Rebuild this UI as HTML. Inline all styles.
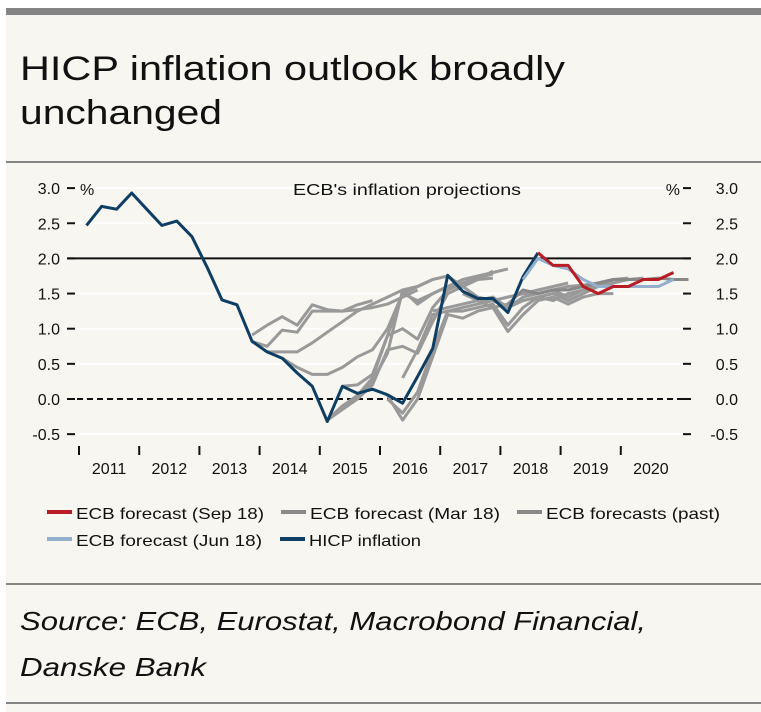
<!DOCTYPE html>
<html><head><meta charset="utf-8"><style>
body{margin:0;background:#fff;}
svg{display:block;font-family:"Liberation Sans",sans-serif;}
</style></head><body>
<svg id="c" width="761" height="712" viewBox="0 0 761 712">
<rect x="6" y="8" width="755" height="704" fill="#f7f6f0"/>
<rect x="6" y="8" width="755" height="7" fill="#848484"/>
<text x="20" y="80" font-size="34" fill="#111" textLength="545" lengthAdjust="spacingAndGlyphs">HICP inflation outlook broadly</text>
<text x="20" y="124" font-size="34" fill="#111" textLength="202" lengthAdjust="spacingAndGlyphs">unchanged</text>
<rect x="6" y="161" width="755" height="2" fill="#848484"/>
<g id="plot"></g>
<g id="legend"></g>
<rect x="6" y="583" width="755" height="2" fill="#848484"/>
<text x="20" y="630" font-size="26" font-style="italic" fill="#111" textLength="626" lengthAdjust="spacingAndGlyphs">Source: ECB, Eurostat, Macrobond Financial,</text>
<text x="20" y="676" font-size="26" font-style="italic" fill="#111" textLength="186" lengthAdjust="spacingAndGlyphs">Danske Bank</text>
<rect x="6" y="702" width="755" height="2" fill="#848484"/>
</svg>
<script>
const yTicks=[3.0,2.5,2.0,1.5,1.0,0.5,0.0,-0.5];
const yTickLabels=["3.0","2.5","2.0","1.5","1.0","0.5","0.0","-0.5"];
const years=[2011,2012,2013,2014,2015,2016,2017,2018,2019,2020];
const hicpStart=2011.125;
const hicp=[2.47,2.74,2.70,2.93,2.70,2.47,2.53,2.31,1.88,1.41,1.34,0.82,0.67,0.58,0.37,0.18,-0.32,0.18,0.08,0.14,0.06,-0.06,0.32,0.72,1.76,1.53,1.43,1.43,1.23,1.74,2.08];
const sepStart=2018.625;
const sep18=[2.08,1.9,1.9,1.6,1.5,1.6,1.6,1.7,1.7,1.8];
const junStart=2018.375;
const jun18=[1.7,2.0,1.9,1.85,1.7,1.6,1.6,1.6,1.6,1.6,1.7];
const marStart=2018.125;
const mar18=[1.35,1.55,1.5,1.55,1.55,1.6,1.65,1.7,1.7,1.7,1.72,1.7,1.7];
const pastStarts=[2013.875,2013.875,2014.125,2014.375,2015.125,2015.125,2015.125,2015.375,2016.125,2016.125,2016.375,2016.875,2017.125,2017.375,2017.625];
const pastValues=[
[0.91,1.05,1.17,1.05,1.34,1.27,1.25,1.34,1.40],
[0.82,0.75,0.98,0.95,1.25,1.25,1.25,1.27,1.3,1.35,1.45,1.55],
[0.67,0.67,0.67,0.8,0.95,1.1,1.25,1.35,1.45,1.55,1.6,1.7],
[0.58,0.45,0.35,0.35,0.45,0.6,0.7,1.0,1.5,1.6,1.7,1.75],
[-0.3,-0.15,0.0,0.25,0.65,1.55,1.35,1.5,1.6,1.65,1.7,1.72],
[-0.3,-0.1,0.05,0.3,0.9,1.0,0.85,1.3,1.55,1.65,1.72,1.78],
[-0.3,-0.1,0.0,0.2,0.7,0.75,0.65,1.1,1.5,1.6,1.7,1.82],
[0.18,0.2,0.35,0.9,1.5,1.4,1.5,1.6,1.7,1.75,1.8,1.85],
[0.05,-0.3,0.0,0.6,1.2,1.15,1.25,1.3,0.96,1.2,1.4,1.45,1.35,1.45,1.5,1.5],
[0.0,-0.2,0.1,0.7,1.25,1.25,1.3,1.35,1.05,1.3,1.45,1.5,1.45,1.55,1.6,1.65],
[0.3,0.7,1.2,1.25,1.3,1.35,1.4,1.45,1.5,1.55,1.6,1.65],
[1.25,1.3,1.35,1.4,1.4,1.45,1.5,1.5,1.55,1.6,1.62,1.65],
[1.75,1.6,1.45,1.4,1.3,1.4,1.45,1.5,1.4,1.5,1.6,1.7],
[1.5,1.4,1.45,1.3,1.45,1.5,1.55,1.45,1.55,1.65,1.7,1.72],
[1.4,1.3,1.35,1.4,1.45,1.4,1.5,1.55,1.6,1.65,1.7,1.72]
];
const NS='http://www.w3.org/2000/svg';
const X=t=>79+60.2*(t-2011);
const Y=v=>399-70.3*v;
function mk(tag,attrs,parent){const e=document.createElementNS(NS,tag);for(const k in attrs)e.setAttribute(k,attrs[k]);parent.appendChild(e);return e;}
const plot=document.getElementById('plot');
yTicks.forEach((v,i)=>{
  if(v!==0&&v!==2){const g=mk('line',{x1:67,x2:690,y1:Y(v),y2:Y(v),stroke:'#fff','stroke-width':2},plot);
  
  }
  const t1=mk('line',{x1:67,x2:75,y1:Y(v),y2:Y(v),stroke:'#111','stroke-width':2},plot);
  
  
  const t2=mk('line',{x1:683,x2:691,y1:Y(v),y2:Y(v),stroke:'#111','stroke-width':2},plot);
  
  
  const l=mk('text',{x:60,y:Y(v)+6,'font-size':16,'text-anchor':'end',fill:'#111'},plot);l.textContent=yTickLabels[i];
  
  
  const r=mk('text',{x:738,y:Y(v)+6,'font-size':16,'text-anchor':'end',fill:'#111'},plot);r.textContent=yTickLabels[i];
  
  
});
const two=mk('line',{x1:67,x2:691,y1:Y(2),y2:Y(2),stroke:'#111','stroke-width':2},plot);


const zero=mk('line',{x1:67,x2:691,y1:Y(0),y2:Y(0),stroke:'#111','stroke-width':2,'stroke-dasharray':'6,4'},plot);


years.forEach(yr=>{
  const t=mk('line',{x1:X(yr),x2:X(yr),y1:446,y2:455,stroke:'#111','stroke-width':2},plot);
  
  
  const l=mk('text',{x:X(yr+0.5),y:474,'font-size':16,'text-anchor':'middle',fill:'#111'},plot);l.textContent=String(yr);
  
  
});
[['%',80,'start'],['%',680,'end']].forEach(a=>{const t=mk('text',{x:a[1],y:195,'font-size':16,'text-anchor':a[2],fill:'#111'},plot);t.textContent=a[0];

});
const st=mk('text',{x:407,y:195,'font-size':16,'text-anchor':'middle',fill:'#111',textLength:228,lengthAdjust:'spacingAndGlyphs'},plot);st.textContent="ECB's inflation projections";


function series(start,vals,color,w,name){
  const d=vals.map((v,i)=>(i?'L':'M')+X(start+0.25*i).toFixed(1)+','+Y(v).toFixed(1)).join(' ');
  const p=mk('path',{d:d,fill:'none',stroke:color,'stroke-width':w,'stroke-linejoin':'round'},plot);
  
  
}
pastValues.forEach((vals,i)=>series(pastStarts[i],vals,'#999','3','past-forecast-line'));
series(marStart,mar18,'#888','3','mar18-forecast-line');
series(hicpStart,hicp,'#0e3e63','3','hicp-line');
series(junStart,jun18,'#93afcc','3','jun18-forecast-line');
series(sepStart,sep18,'#b81c24','3','sep18-forecast-line');
const legend=document.getElementById('legend');
const items=[['ECB forecast (Sep 18)','#b81c24',47,513,188],['ECB forecast (Mar 18)','#888',281,513,190],['ECB forecasts (past)','#888',517,513,174],['ECB forecast (Jun 18)','#93afcc',47,540,186],['HICP inflation','#0e3e63',280,540,112]];
items.forEach(it=>{
  const g=mk('g',{},legend);
  
  
  mk('rect',{x:it[2],y:it[3]-3,width:25,height:4,fill:it[1]},g);
  const t=mk('text',{x:it[2]+29,y:it[3]+6,'font-size':16,fill:'#111',textLength:it[4],lengthAdjust:'spacingAndGlyphs'},g);t.textContent=it[0];
});
</script>
</body></html>
